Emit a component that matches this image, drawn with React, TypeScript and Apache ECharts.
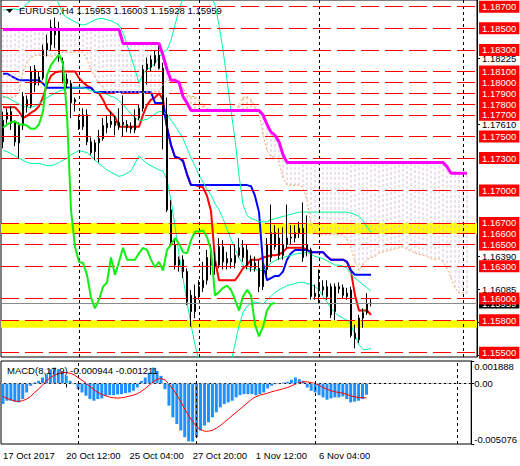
import React, { useEffect, useRef } from "react";
import * as echarts from "echarts";

const FONT = "'Liberation Sans', Arial, sans-serif";
const FONT_SIZE = 9.5;

const symbol = "EURUSD,H4";
const macdName = "MACD(8,17,9)";
const slotCount = 119;
const dateTicks = ["17 Oct 2017", "20 Oct 12:00", "25 Oct 04:00", "27 Oct 20:00", "1 Nov 12:00", "6 Nov 04:00"];
const dateTickStep = 16;
const weekSeparators = [19, 49, 79, 115];

const priceMin = 1.1546;
const priceMax = 1.18762;
const lastPrice = 1.15959;
const levelLines = [1.187, 1.185, 1.183, 1.181, 1.18, 1.179, 1.178, 1.177, 1.175, 1.173, 1.17, 1.167, 1.166, 1.165, 1.163, 1.16, 1.158, 1.155];
const yellowZones = [[1.166, 1.167], [1.1573, 1.158]];
const priceTicks = [1.18225, 1.1761, 1.1639, 1.16085, 1.1578, 1.15475];

const macdMin = -0.005076;
const macdMax = 0.001888;

// [open, close, low, high]
const ohlc = [
  [1.1745, 1.1765, 1.1739, 1.1773], [1.1766, 1.1772, 1.1762, 1.1776], [1.1773, 1.1762, 1.1756, 1.1778],
  [1.1763, 1.1745, 1.1741, 1.1765], [1.1744, 1.1761, 1.173, 1.1763], [1.176, 1.1787, 1.1756, 1.1791],
  [1.1784, 1.1778, 1.1772, 1.1788], [1.1778, 1.181, 1.1776, 1.1815], [1.1812, 1.1798, 1.1791, 1.1816],
  [1.18, 1.1805, 1.1797, 1.181], [1.1804, 1.183, 1.1802, 1.1835], [1.183, 1.1836, 1.1824, 1.1844],
  [1.1835, 1.1851, 1.183, 1.1858], [1.1851, 1.1844, 1.1832, 1.186], [1.1849, 1.1823, 1.1819, 1.1856],
  [1.1819, 1.1802, 1.1799, 1.1823], [1.1803, 1.1799, 1.1795, 1.1808], [1.1799, 1.1781, 1.1767, 1.1802],
  [1.1784, 1.1782, 1.1773, 1.1786], [1.1759, 1.1765, 1.1756, 1.177], [1.1759, 1.177, 1.1756, 1.1776],
  [1.177, 1.1745, 1.1742, 1.1775], [1.1745, 1.1735, 1.1733, 1.1749], [1.1736, 1.1744, 1.1728, 1.1747],
  [1.1744, 1.1748, 1.1726, 1.1756], [1.1748, 1.176, 1.1746, 1.1767], [1.1758, 1.1762, 1.1753, 1.177],
  [1.1761, 1.1764, 1.1758, 1.1773], [1.1764, 1.176, 1.1751, 1.1769], [1.1759, 1.1763, 1.1756, 1.1776],
  [1.1763, 1.1761, 1.175, 1.1788], [1.1761, 1.1758, 1.1754, 1.1765], [1.1759, 1.1757, 1.1753, 1.1763],
  [1.1756, 1.1767, 1.1753, 1.1775], [1.1767, 1.1776, 1.1765, 1.1779], [1.1776, 1.1812, 1.1773, 1.1816],
  [1.1812, 1.1817, 1.1798, 1.1823], [1.1814, 1.1821, 1.181, 1.1825], [1.1818, 1.1825, 1.1815, 1.183],
  [1.1825, 1.1813, 1.1812, 1.1836], [1.1813, 1.177, 1.1738, 1.1818], [1.177, 1.1682, 1.168, 1.1786],
  [1.1682, 1.165, 1.1648, 1.1691], [1.165, 1.1631, 1.1627, 1.1654], [1.1631, 1.1636, 1.1625, 1.1639],
  [1.1636, 1.1625, 1.1619, 1.164], [1.1625, 1.1597, 1.1594, 1.1628], [1.1603, 1.1588, 1.1574, 1.1608],
  [1.1588, 1.1602, 1.1582, 1.1613], [1.1603, 1.1611, 1.1599, 1.1617], [1.161, 1.1617, 1.1606, 1.1634],
  [1.1617, 1.1638, 1.1613, 1.1645], [1.1638, 1.1631, 1.1622, 1.165], [1.163, 1.1634, 1.1622, 1.1643],
  [1.1631, 1.1648, 1.1628, 1.1656], [1.1648, 1.1634, 1.1627, 1.1654], [1.1633, 1.1637, 1.1627, 1.1643],
  [1.1637, 1.1634, 1.1628, 1.165], [1.1633, 1.164, 1.1628, 1.165], [1.164, 1.1647, 1.1638, 1.1656],
  [1.1647, 1.1638, 1.1634, 1.1654], [1.1645, 1.1631, 1.1627, 1.165], [1.1636, 1.1629, 1.1625, 1.164],
  [1.1628, 1.1633, 1.1625, 1.1639], [1.1628, 1.1611, 1.1606, 1.1636], [1.1611, 1.1628, 1.1608, 1.1634],
  [1.1627, 1.165, 1.1622, 1.1656], [1.1638, 1.1661, 1.1634, 1.1687], [1.1661, 1.1648, 1.1645, 1.1668],
  [1.1656, 1.164, 1.1636, 1.1665], [1.164, 1.165, 1.1636, 1.1666], [1.165, 1.1656, 1.1647, 1.1687],
  [1.1656, 1.1657, 1.165, 1.1668], [1.1656, 1.1661, 1.1652, 1.1668], [1.1661, 1.1665, 1.1656, 1.1671],
  [1.1665, 1.1638, 1.1634, 1.1689], [1.165, 1.1645, 1.1639, 1.1677], [1.1645, 1.1602, 1.1599, 1.1647],
  [1.1602, 1.1605, 1.1599, 1.1613], [1.1613, 1.161, 1.1596, 1.1627], [1.1611, 1.1608, 1.1603, 1.1617],
  [1.1611, 1.1602, 1.1599, 1.1617], [1.1611, 1.1585, 1.1582, 1.1614], [1.1588, 1.1611, 1.158, 1.1614],
  [1.1611, 1.1609, 1.1605, 1.1615], [1.161, 1.1603, 1.16, 1.1613], [1.1602, 1.1605, 1.1599, 1.161],
  [1.1608, 1.1566, 1.1564, 1.1611], [1.1568, 1.1563, 1.1554, 1.1576], [1.1562, 1.1582, 1.1559, 1.1585],
  [1.1582, 1.1587, 1.1573, 1.1591], [1.1587, 1.1595, 1.1585, 1.1605], [1.15953, 1.15959, 1.15928, 1.16003],
];

const tenkan = [
  1.1777, 1.1777, 1.1777, 1.1777, 1.1773, 1.1767, 1.1769, 1.1772, 1.1774, 1.1778,
  1.1786, 1.1798, 1.1806, 1.1809, 1.181, 1.181, 1.181, 1.181, 1.181, 1.1804,
  1.18, 1.1797, 1.1795, 1.1791, 1.179, 1.1784, 1.1776, 1.1772, 1.1768, 1.1759,
  1.1759, 1.1759, 1.1759, 1.1759, 1.1759, 1.177, 1.1779, 1.1784, 1.1786, 1.179,
  1.1784, 1.1759, 1.1742, 1.1731, 1.173, 1.1728, 1.1715, 1.1705, 1.1705, 1.1704,
  1.1703, 1.1695, 1.1681, 1.1636, 1.1617, 1.1617, 1.1617, 1.1617, 1.1617, 1.1622,
  1.1628, 1.1631, 1.1636, 1.1636, 1.1636, 1.1638, 1.1639, 1.164, 1.164, 1.1641,
  1.1643, 1.1647, 1.1647, 1.1647, 1.1647, 1.1647, 1.1645, 1.1643, 1.1643, 1.1643,
  1.1643, 1.1639, 1.1636, 1.1636, 1.1636, 1.1636, 1.1634, 1.1625, 1.1603, 1.1589,
  1.1589, 1.1589, 1.1585,
];

const kijun = [
  1.1808, 1.1808, 1.1806, 1.1804, 1.1802, 1.1802, 1.1802, 1.1802, 1.1802, 1.1802,
  1.1799, 1.1795, 1.1795, 1.1795, 1.1795, 1.1795, 1.1795, 1.1795, 1.1795, 1.1795,
  1.1795, 1.1795, 1.1795, 1.1791, 1.1791, 1.1791, 1.1791, 1.1791, 1.1791, 1.1791,
  1.1791, 1.1791, 1.1791, 1.1791, 1.1791, 1.1791, 1.1791, 1.1791, 1.1781, 1.1781,
  1.1781, 1.1758, 1.1742, 1.1731, 1.173, 1.1727, 1.1715, 1.1705, 1.1705, 1.1705,
  1.1705, 1.1705, 1.1705, 1.1705, 1.1705, 1.1705, 1.1705, 1.1705, 1.1705, 1.1705,
  1.1705, 1.1705, 1.1704, 1.1695, 1.168, 1.1633, 1.1617, 1.1619, 1.1621, 1.1621,
  1.1625, 1.1636, 1.1642, 1.1645, 1.1645, 1.1645, 1.1645, 1.1643, 1.1643, 1.1643,
  1.1643, 1.1639, 1.1636, 1.1636, 1.1636, 1.1636, 1.1634, 1.1626, 1.1622, 1.1622,
  1.1622, 1.1622, 1.1622,
];

const spanA = [
  1.1786, 1.1786, 1.1786, 1.1787, 1.179, 1.181, 1.1818, 1.1823, 1.1825, 1.1825,
  1.1825, 1.1825, 1.1824, 1.1825, 1.1828, 1.1828, 1.1828, 1.1828, 1.1828, 1.1828,
  1.1828, 1.1821, 1.1812, 1.1805, 1.1799, 1.1795, 1.1791, 1.1791, 1.1791, 1.1791,
  1.1791, 1.1791, 1.1791, 1.1791, 1.1791, 1.1791, 1.1791, 1.1791, 1.1791, 1.1791,
  1.1798, 1.1802, 1.1802, 1.1802, 1.18, 1.1795, 1.1788, 1.1787, 1.1787, 1.1784,
  1.1779, 1.1776, 1.1774, 1.1774, 1.1774, 1.1774, 1.1774, 1.1774, 1.1774, 1.1779,
  1.1786, 1.1787, 1.1784, 1.1777, 1.1773, 1.1751, 1.1737, 1.1731, 1.1731, 1.1726,
  1.1712, 1.1705, 1.1705, 1.1705, 1.1705, 1.1703, 1.1691, 1.1668, 1.1661, 1.1659,
  1.1659, 1.1659, 1.1659, 1.1659, 1.1659, 1.1659, 1.1654, 1.1647, 1.1634, 1.1626,
  1.1631, 1.1636, 1.1638, 1.1639, 1.1642, 1.1643, 1.1644, 1.1645, 1.1646, 1.1647,
  1.1648, 1.1646, 1.1644, 1.1642, 1.1641, 1.164, 1.1639, 1.1637, 1.1636, 1.1637,
  1.1634, 1.1628, 1.1619, 1.161, 1.1605, 1.1605, 1.1605,
];

const spanB = [
  1.1849, 1.1849, 1.1849, 1.1849, 1.1849, 1.1849, 1.1849, 1.1849, 1.1849, 1.1849,
  1.1849, 1.1849, 1.1849, 1.1849, 1.1849, 1.1849, 1.1849, 1.1849, 1.1849, 1.1849,
  1.1849, 1.1849, 1.1849, 1.1849, 1.1849, 1.1849, 1.1849, 1.1849, 1.1849, 1.1849,
  1.1836, 1.1836, 1.1836, 1.1836, 1.1836, 1.1836, 1.1836, 1.1836, 1.1836, 1.1836,
  1.1825, 1.1812, 1.1802, 1.1802, 1.18, 1.1787, 1.1781, 1.1774, 1.1774, 1.1774,
  1.1774, 1.1774, 1.1774, 1.1774, 1.1774, 1.1774, 1.1774, 1.1774, 1.1774, 1.1774,
  1.1774, 1.1774, 1.1774, 1.1774, 1.1774, 1.177, 1.1761, 1.1754, 1.1751, 1.1745,
  1.1733, 1.1726, 1.1726, 1.1726, 1.1726, 1.1726, 1.1726, 1.1726, 1.1726, 1.1726,
  1.1726, 1.1726, 1.1726, 1.1726, 1.1726, 1.1726, 1.1726, 1.1726, 1.1726, 1.1726,
  1.1726, 1.1726, 1.1726, 1.1726, 1.1726, 1.1726, 1.1726, 1.1726, 1.1726, 1.1726,
  1.1726, 1.1726, 1.1726, 1.1726, 1.1726, 1.1726, 1.1726, 1.1726, 1.1726, 1.1726,
  1.1726, 1.1722, 1.1716, 1.1716, 1.1716, 1.1716, 1.1716,
];

const chikou = [
  1.1758, 1.1761, 1.1763, 1.1764, 1.1761, 1.1761, 1.176, 1.1757, 1.1757, 1.1761,
  1.1773, 1.1807, 1.1816, 1.1821, 1.1826, 1.1817, 1.177, 1.1682, 1.1648, 1.1634,
  1.1633, 1.1622, 1.1601, 1.1591, 1.1599, 1.1611, 1.1615, 1.1638, 1.1622, 1.1634,
  1.1647, 1.1636, 1.1636, 1.1636, 1.1642, 1.1647, 1.1645, 1.1636, 1.1629, 1.1634,
  1.1626, 1.1645, 1.165, 1.1656, 1.1651, 1.1643, 1.1642, 1.1654, 1.1662, 1.1662,
  1.1663, 1.1657, 1.1645, 1.1603, 1.1606, 1.161, 1.1612, 1.1608, 1.1599, 1.1589,
  1.1602, 1.1608, 1.1603, 1.1576, 1.1565, 1.1574, 1.1589, 1.1595, 1.1596,
];

const bbUpper = [
  1.1867, 1.1867, 1.1868, 1.1868, 1.1867, 1.1869, 1.1873, 1.1876, 1.1879, 1.1881,
  1.1882, 1.1883, 1.1883, 1.1881, 1.1872, 1.1863, 1.186, 1.1858, 1.1856, 1.1854,
  1.1853, 1.1854, 1.1856, 1.1858, 1.1859, 1.1859, 1.1858, 1.1857, 1.1855, 1.1853,
  1.1846, 1.1835, 1.1824, 1.1812, 1.1799, 1.1808, 1.1812, 1.1814, 1.1818, 1.1823,
  1.1828, 1.183, 1.1839, 1.1853, 1.1867, 1.1878, 1.1882, 1.1885, 1.1885, 1.1885,
  1.1884, 1.1883, 1.188, 1.1872, 1.1853, 1.183, 1.1802, 1.1774, 1.1747, 1.1714,
  1.1687, 1.1677, 1.1674, 1.1673, 1.1671, 1.1671, 1.1671, 1.1673, 1.1674, 1.1675,
  1.1676, 1.1677, 1.1678, 1.1679, 1.168, 1.168, 1.168, 1.168, 1.168, 1.168,
  1.168, 1.168, 1.168, 1.168, 1.168, 1.168, 1.168, 1.1679, 1.1678, 1.1676,
  1.1672, 1.1666, 1.1661,
];

const bbMiddle = [
  1.1787, 1.1786, 1.1784, 1.1782, 1.178, 1.1778, 1.1777, 1.1777, 1.1778, 1.178,
  1.1783, 1.1786, 1.1788, 1.179, 1.1792, 1.1793, 1.1794, 1.1795, 1.1795, 1.1795,
  1.1795, 1.1794, 1.1792, 1.1792, 1.1791, 1.179, 1.1789, 1.1787, 1.1786, 1.1783,
  1.178, 1.1775, 1.1771, 1.1767, 1.1765, 1.1765, 1.1766, 1.1768, 1.1771, 1.1773,
  1.1773, 1.177, 1.1765, 1.176, 1.1754, 1.1748, 1.1739, 1.173, 1.1723, 1.1714,
  1.1708, 1.1701, 1.1696, 1.1688, 1.1682, 1.1674, 1.1664, 1.1655, 1.1646, 1.1638,
  1.1631, 1.1628, 1.1627, 1.1627, 1.1626, 1.1626, 1.1629, 1.1633, 1.1635, 1.1637,
  1.1638, 1.1639, 1.164, 1.1641, 1.1642, 1.1642, 1.1643, 1.1641, 1.1639, 1.1638,
  1.1637, 1.1635, 1.1633, 1.1631, 1.1631, 1.163, 1.1628, 1.1623, 1.1619, 1.1616,
  1.1613, 1.161, 1.1607,
];

const bbLower = [
  1.1737, 1.1736, 1.1734, 1.1732, 1.173, 1.1728, 1.1726, 1.1725, 1.1725, 1.1725,
  1.1724, 1.1723, 1.1723, 1.1724, 1.1726, 1.1728, 1.173, 1.1733, 1.1735, 1.1737,
  1.1736, 1.1735, 1.1732, 1.1728, 1.1725, 1.1722, 1.1719, 1.1717, 1.1715, 1.1713,
  1.1714, 1.1716, 1.1718, 1.1725, 1.1732, 1.1728, 1.1725, 1.1723, 1.1721, 1.1719,
  1.1718, 1.171, 1.1691, 1.1667, 1.1641, 1.1619, 1.1597, 1.1576, 1.1557, 1.1543,
  1.1532, 1.1525, 1.1519, 1.1516, 1.1513, 1.1512, 1.1525, 1.1541, 1.1558, 1.1575,
  1.1587, 1.1593, 1.1595, 1.1597, 1.1596, 1.1595, 1.1599, 1.1602, 1.1606, 1.1608,
  1.161, 1.1612, 1.1613, 1.1614, 1.1615, 1.1615, 1.1614, 1.1613, 1.1611, 1.1608,
  1.1602, 1.1597, 1.1591, 1.1587, 1.1584, 1.1582, 1.158, 1.1576, 1.1566, 1.1557,
  1.1553, 1.1553, 1.1554,
];

const macdHist = [
  -0.001726, -0.001443, -0.001443, -0.001526, -0.001585, -0.001309, -0.000751, -0.000192, 0.000083, 0.000225,
  0.0005, 0.000776, 0.001193, 0.001334, 0.001193, 0.000917, 0.000642, 0.000225, -0.000058, -0.000475,
  -0.000751, -0.001026, -0.001309, -0.001443, -0.001309, -0.001251, -0.001026, -0.000976, -0.000976, -0.000917,
  -0.000892, -0.000809, -0.000751, -0.000609, -0.000334, 0.000225, 0.0005, 0.000917, 0.001334, 0.001059,
  0.000642, -0.000475, -0.00186, -0.002836, -0.003394, -0.003945, -0.004504, -0.00485, -0.00488, -0.004504,
  -0.003945, -0.003528, -0.003253, -0.002836, -0.002419, -0.002002, -0.001726, -0.001585, -0.001443, -0.001168,
  -0.000976, -0.000892, -0.000892, -0.000892, -0.000976, -0.000892, -0.000751, -0.000417, -0.000192, -0.000058,
  0.000025, 0.000083, 0.000142, 0.000309, 0.0005, 0.000359, 0.000225, -0.000334, -0.000609, -0.000751,
  -0.000976, -0.001168, -0.001359, -0.001251, -0.001168, -0.001168, -0.001084, -0.001309, -0.001585, -0.001526,
  -0.001443, -0.001309, -0.000944,
];

const macdSignal = [
  -0.001084, -0.001251, -0.001359, -0.001476, -0.001501, -0.001443, -0.001309, -0.001084, -0.000751, -0.000475,
  -0.000142, 0.000225, 0.0005, 0.000692, 0.000834, 0.000917, 0.000917, 0.000859, 0.000726, 0.0005,
  0.000275, 0.000025, -0.00025, -0.000525, -0.000751, -0.000917, -0.001026, -0.001143, -0.001193, -0.001226,
  -0.001193, -0.001143, -0.001059, -0.000976, -0.000859, -0.000667, -0.000417, -0.000142, 0.000142, 0.000359,
  0.000417, 0.000309, -0.000058, -0.000475, -0.000976, -0.001526, -0.002143, -0.002694, -0.003194, -0.003611,
  -0.003861, -0.004003, -0.004003, -0.00392, -0.003753, -0.003528, -0.003253, -0.002977, -0.002694, -0.002419,
  -0.002143, -0.00186, -0.001585, -0.001309, -0.001109, -0.000976, -0.000892, -0.000809, -0.000692, -0.000609,
  -0.000525, -0.000417, -0.000334, -0.000192, -0.000058, 0.000083, 0.000142, 0.000142, 0.000083, 0,
  -0.000142, -0.000334, -0.000475, -0.000609, -0.000692, -0.000751, -0.000809, -0.000917, -0.001026, -0.001109,
  -0.001168, -0.001193, -0.001211,
];

function isDateTick(i: number) {
  return i % dateTickStep === 0 && i / dateTickStep < dateTicks.length;
}

export default function App() {
  const ref = useRef<HTMLDivElement>(null);

  useEffect(() => {
    const el = ref.current;
    if (!el) return;
    const chart = echarts.init(el, null, { renderer: "svg" });

    const slots = Array.from({ length: slotCount }, (_, i) => String(i));
    const last = ohlc[ohlc.length - 1];
    const header = `${symbol} ${[last[0], last[3], last[2], last[1]].map((v) => v.toFixed(5)).join(" ")}`;
    const macdText = `${macdName} ${macdHist[macdHist.length - 1].toFixed(6)} ${macdSignal[macdSignal.length - 1].toFixed(6)}`;
    const hatch = spanA.map((a, i) => [i, a, spanB[i]]);

    const sepStyle = { color: "#000", type: [3, 3], width: 1 };
    const baseLabel = { fontFamily: FONT, fontSize: FONT_SIZE, lineHeight: 11 };

    const priceLine = (data: number[], color: string, width: number, z: number, type: any = "solid") => ({
      type: "line",
      xAxisIndex: 0,
      yAxisIndex: 0,
      data,
      showSymbol: false,
      symbol: "none",
      silent: true,
      z,
      lineStyle: { color, width, type },
    });

    const option: any = {
      animation: false,
      backgroundColor: "#fff",
      textStyle: { fontFamily: FONT, fontSize: FONT_SIZE },
      grid: [
        { left: 1, top: 0, width: 476, height: 357, show: true, borderColor: "#000", borderWidth: 1 },
        { left: 1, top: 361, width: 476, height: 83, show: true, borderColor: "#000", borderWidth: 1 },
      ],
      xAxis: [
        {
          type: "category",
          gridIndex: 0,
          data: slots,
          boundaryGap: true,
          axisLine: { show: false },
          axisTick: { show: false },
          axisLabel: { show: false },
          splitLine: { show: false },
        },
        {
          type: "category",
          gridIndex: 1,
          data: slots,
          boundaryGap: true,
          axisLine: { show: true, lineStyle: { color: "#000" } },
          axisTick: {
            show: true,
            alignWithLabel: true,
            length: 4,
            interval: (i: number) => isDateTick(i),
            lineStyle: { color: "#000" },
          },
          axisLabel: {
            interval: 0,
            align: "left",
            margin: 6,
            color: "#000",
            fontSize: FONT_SIZE,
            fontFamily: FONT,
            formatter: (_v: string, i: number) => (isDateTick(i) ? dateTicks[i / dateTickStep] : ""),
          },
          splitLine: { show: false },
        },
      ],
      yAxis: [
        {
          type: "value",
          gridIndex: 0,
          position: "right",
          min: priceMin,
          max: priceMax,
          splitLine: { show: false },
          axisLine: { show: true, lineStyle: { color: "#000" } },
          axisTick: { show: true, length: 3, customValues: priceTicks, lineStyle: { color: "#000" } },
          axisLabel: {
            customValues: priceTicks,
            formatter: (v: number) => v.toFixed(5),
            color: "#000",
            fontSize: FONT_SIZE,
            fontFamily: FONT,
            margin: 5,
          },
        },
        {
          type: "value",
          gridIndex: 1,
          position: "right",
          min: macdMin,
          max: macdMax,
          splitLine: { show: false },
          axisLine: { show: true, lineStyle: { color: "#000" } },
          axisTick: { show: true, length: 3, customValues: [macdMin, 0, macdMax], lineStyle: { color: "#000" } },
          axisLabel: {
            customValues: [macdMin, 0, macdMax],
            formatter: (v: number) => (v === 0 ? "0.00" : v.toFixed(6)),
            color: "#000",
            fontSize: FONT_SIZE,
            fontFamily: FONT,
            margin: 3,
            verticalAlignMinLabel: "bottom",
            verticalAlignMaxLabel: "top",
          },
        },
      ],
      series: [
        // filled rectangles behind everything
        {
          type: "line",
          data: [],
          xAxisIndex: 0,
          yAxisIndex: 0,
          z: 0,
          silent: true,
          markArea: {
            silent: true,
            itemStyle: { color: "#ffff00", opacity: 1 },
            data: yellowZones.map(([a, b]) => [{ yAxis: a }, { yAxis: b }]),
          },
        },
        // weekly period separators
        {
          type: "line",
          data: [],
          xAxisIndex: 0,
          yAxisIndex: 0,
          z: 1,
          silent: true,
          markLine: {
            silent: true,
            symbol: ["none", "none"],
            lineStyle: sepStyle,
            label: { show: false },
            data: weekSeparators.map((i) => ({ xAxis: i })),
          },
        },
        priceLine(tenkan, "#FF0000", 2, 2),
        priceLine(kijun, "#0000FF", 2, 2),
        // kumo hatching between the two senkou spans
        {
          type: "custom",
          xAxisIndex: 0,
          yAxisIndex: 0,
          data: hatch,
          encode: { x: 0, y: [1, 2] },
          z: 3,
          silent: true,
          renderItem: (_params: any, api: any) => {
            const i = api.value(0);
            const a = api.value(1);
            const b = api.value(2);
            const p1 = api.coord([i, a]);
            const p2 = api.coord([i, b]);
            return {
              type: "line",
              shape: { x1: p1[0], y1: p1[1], x2: p2[0], y2: p2[1] },
              style: { stroke: a > b ? "#F4A460" : "#D8BFD8", lineWidth: 1, lineDash: [3, 2] },
            };
          },
        },
        priceLine(bbUpper, "#00FA9A", 1, 3),
        priceLine(bbMiddle, "#00FA9A", 1, 3),
        priceLine(bbLower, "#00FA9A", 1, 3),
        {
          type: "candlestick",
          xAxisIndex: 0,
          yAxisIndex: 0,
          data: ohlc,
          barWidth: 2,
          z: 4,
          silent: true,
          itemStyle: {
            color: "#3CB371",
            color0: "#000",
            borderColor: "#000",
            borderColor0: "#000",
            borderWidth: 1,
          },
        },
        priceLine(spanA, "#F4A460", 1, 5, [2, 2]),
        priceLine(spanB, "#FF00FF", 3, 5),
        priceLine(chikou, "#11EE11", 2, 5),
        // bid line
        {
          type: "line",
          data: [],
          xAxisIndex: 0,
          yAxisIndex: 0,
          z: 6,
          silent: true,
          markLine: {
            silent: true,
            precision: 5,
            symbol: ["none", "none"],
            lineStyle: { color: "#8a8a8a", type: "solid", width: 1 },
            label: {
              show: true,
              position: "end",
              distance: 2,
              formatter: () => lastPrice.toFixed(5),
              color: "#fff",
              backgroundColor: "#000",
              padding: [0, 3, 0, 3],
              ...baseLabel,
            },
            data: [{ yAxis: lastPrice }],
          },
        },
        // horizontal price levels
        {
          type: "line",
          data: [],
          xAxisIndex: 0,
          yAxisIndex: 0,
          z: 6,
          silent: true,
          markLine: {
            silent: true,
            precision: 5,
            symbol: ["none", "none"],
            lineStyle: { color: "#ff0000", type: [18, 6], width: 1 },
            label: {
              show: true,
              position: "end",
              distance: 2,
              formatter: (p: any) => Number(p.value).toFixed(5),
              color: "#fff",
              backgroundColor: "#ff0000",
              padding: [1, 3, 0, 3],
              ...baseLabel,
            },
            data: levelLines.map((v) => ({ yAxis: v })),
          },
        },
        {
          type: "bar",
          xAxisIndex: 1,
          yAxisIndex: 1,
          data: macdHist,
          barWidth: 3,
          z: 2,
          silent: true,
          itemStyle: { color: "#1E90FF" },
          markLine: {
            silent: true,
            precision: 6,
            symbol: ["none", "none"],
            label: { show: false },
            data: [
              { yAxis: 0, lineStyle: { color: "#c0c0c0", type: [3, 2], width: 1 } },
              ...weekSeparators.map((i) => ({ xAxis: i, lineStyle: sepStyle })),
            ],
          },
        },
        {
          type: "line",
          xAxisIndex: 1,
          yAxisIndex: 1,
          data: macdSignal,
          showSymbol: false,
          symbol: "none",
          silent: true,
          z: 3,
          lineStyle: { color: "#FF0000", width: 1 },
        },
      ],
      graphic: [
        {
          type: "polygon",
          z: 100,
          shape: { points: [[6, 9], [13, 9], [9.5, 13]] },
          style: { fill: "#000" },
        },
        {
          type: "text",
          z: 100,
          left: 19,
          top: 5,
          style: { text: header, fill: "#000", fontSize: FONT_SIZE, fontFamily: FONT },
        },
        {
          type: "text",
          z: 100,
          left: 7,
          top: 365,
          style: { text: macdText, fill: "#000", fontSize: FONT_SIZE, fontFamily: FONT },
        },
      ],
    };

    chart.setOption(option);
    return () => chart.dispose();
  }, []);

  return (
    <div
      ref={ref}
      style={{ position: "fixed", left: 0, top: 0, width: 520, height: 466, background: "#fff" }}
    />
  );
}
